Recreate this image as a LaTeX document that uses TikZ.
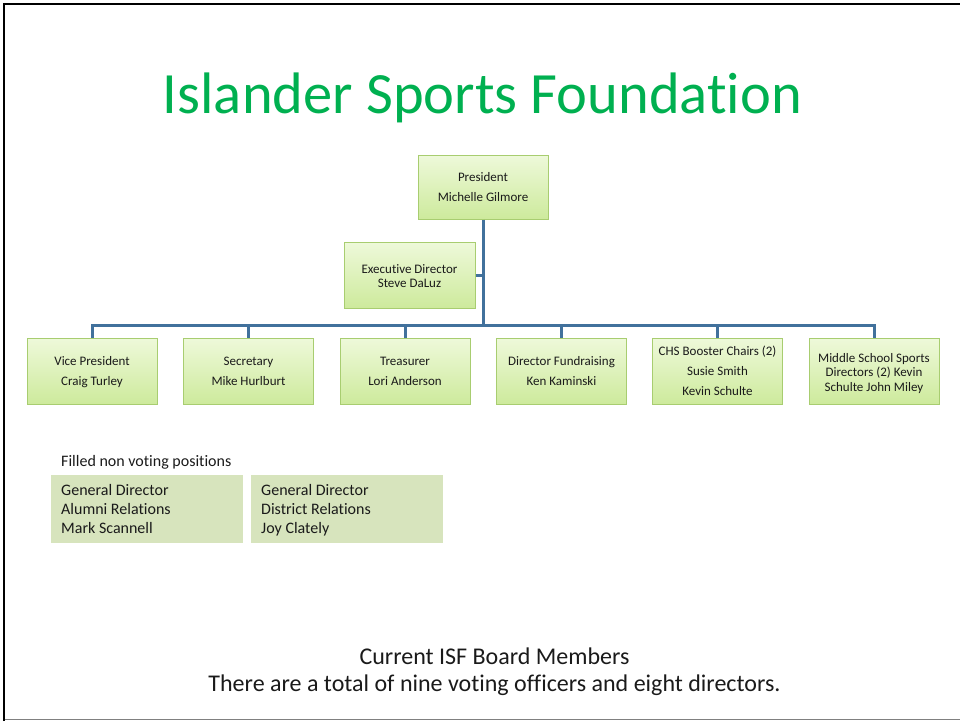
\documentclass[tikz,border=0pt]{standalone}
\usepackage{fontspec}
\setmainfont{Carlito}[Ligatures={NoCommon}]
\definecolor{titlegreen}{HTML}{00B050}
\definecolor{boxborder}{HTML}{A8CD70}
\definecolor{boxtop}{HTML}{EEF9DA}
\definecolor{boxbot}{HTML}{CDEA9C}
\definecolor{linkblue}{HTML}{41719C}
\definecolor{nvfill}{HTML}{D7E4BD}
\definecolor{txt}{HTML}{1A1A1A}
\newcommand\topstr{\rule{0pt}{15.5pt}}
\tikzset{
  obox/.style={draw=boxborder, line width=1pt, top color=boxtop, bottom color=boxbot,
    minimum width=130pt, minimum height=66pt, inner sep=0pt, align=center, text=txt,
    font=\fontsize{13}{20}\selectfont},
  tight/.style={font=\fontsize{13}{14.5}\selectfont},
  link/.style={draw=linkblue, line width=3pt, line join=miter},
  nvbox/.style={fill=nvfill, anchor=north west, minimum width=192pt, minimum height=68pt,
    text width=172pt, inner xsep=10pt, inner ysep=0pt, align=left, text=txt,
    font=\fontsize{16}{19}\selectfont,
    execute at begin node={\spaceskip=0pt\xspaceskip=0pt}}
}
\begin{document}
\begin{tikzpicture}[x=1pt,y=-1pt]
\useasboundingbox (0,0) rectangle (960,721);
% frame
\draw[line width=2.3pt] (4.2,721) -- (4.2,4.3) -- (960,4.3);
\draw[gray, line width=1pt] (5,719.6) -- (960,719.6);
% title
\node[anchor=base, text=titlegreen, font=\fontsize{58.5}{70}\selectfont, inner sep=0] (title) at (482.5,113) {Islander Sports Foundation};
% org boxes
\node[obox, minimum height=64pt] (pres) at (483,187) {\strut President\\Michelle Gilmore\strut};
\node[obox, tight, minimum width=131pt] (exec) at (409.5,275) {\topstr Executive Director\\Steve DaLuz\strut};
\node[obox] (vp) at (92,371) {\strut Vice President\\Craig Turley\strut};
\node[obox] (sec) at (248.5,371) {\strut Secretary\\Mike Hurlburt\strut};
\node[obox] (tre) at (405,371) {\strut Treasurer\\Lori Anderson\strut};
\node[obox] (fund) at (561.5,371) {\strut Director Fundraising\\Ken Kaminski\strut};
\node[obox] (chs) at (717.5,371) {\strut CHS Booster Chairs (2)\\Susie Smith\\Kevin Schulte\strut};
\node[obox, tight] (ms) at (874,371) {\topstr Middle School Sports\\Directors (2) Kevin\\Schulte John Miley\strut};
\coordinate (bus) at (483,325);
% connectors
\draw[link] (pres.south) -- (bus);
\draw[link] (exec.east) -- (exec.east -| bus);
\draw[link] (vp.north) |- (bus) -| (ms.north);
\draw[link] (sec.north) -- (sec.north |- bus);
\draw[link] (tre.north) -- (tre.north |- bus);
\draw[link] (fund.north) -- (fund.north |- bus);
\draw[link] (chs.north) -- (chs.north |- bus);
% non voting
\node[anchor=base west, inner sep=0, text=txt, font=\fontsize{16}{19}\selectfont] (filled) at (61,466) {Filled non voting positions};
\node[nvbox] (nv1) at (51,475) {General Director\\Alumni Relations\\Mark Scannell};
\node[nvbox] (nv2) at (251,475) {General Director\\District Relations\\\smash{Joy Clately}};
% footer
\node[anchor=base, inner sep=0, text=txt, font=\fontsize{24}{27}\selectfont] (cur) at (494.5,664) {Current ISF Board Members};
\node[anchor=base, inner sep=0, text=txt, font=\fontsize{24}{27}\selectfont] (tot) at (494.5,691) {There are a total of nine voting officers and eight directors.};
\end{tikzpicture}
\end{document}
